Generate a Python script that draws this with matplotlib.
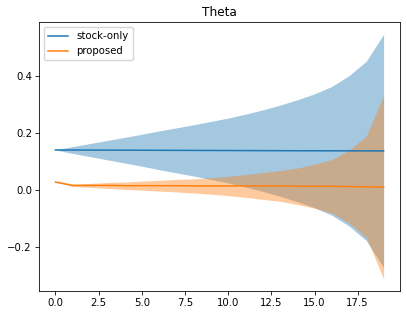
import numpy as np
import matplotlib
matplotlib.use("Agg")
import matplotlib.pyplot as plt

steps = list(range(20))

stock_mean = [0.1395, 0.1393, 0.1391, 0.1389, 0.1387, 0.1385, 0.1383, 0.1381, 0.1379, 0.1377,
              0.1375, 0.1373, 0.1371, 0.1369, 0.1367, 0.1366, 0.1365, 0.1364, 0.1362, 0.1360]
stock_std = [0.0, 0.012, 0.023, 0.034, 0.045, 0.056, 0.068, 0.079, 0.090, 0.102,
             0.114, 0.128, 0.143, 0.160, 0.179, 0.200, 0.226, 0.264, 0.315, 0.410]

prop_mean = [0.027, 0.015, 0.015, 0.015, 0.014, 0.014, 0.014, 0.014, 0.013, 0.013,
             0.013, 0.013, 0.013, 0.013, 0.012, 0.012, 0.012, 0.011, 0.010, 0.009]
prop_std = [0.001, 0.004, 0.007, 0.010, 0.013, 0.016, 0.019, 0.022, 0.025, 0.029,
            0.034, 0.040, 0.047, 0.054, 0.064, 0.077, 0.094, 0.128, 0.178, 0.322]

labels = ["stock-only", "proposed"]
title = "Theta"

s = 0.727
plt.rcParams.update({
    "font.size": 10 * s,
    "axes.linewidth": 0.8 * s,
    "xtick.major.width": 0.8 * s,
    "ytick.major.width": 0.8 * s,
    "xtick.major.size": 3.5 * s,
    "ytick.major.size": 3.5 * s,
    "xtick.major.pad": 3.5 * s,
    "ytick.major.pad": 3.5 * s,
})

fig = plt.figure(figsize=(4.07, 3.16), dpi=100)
ax = fig.add_axes([39 / 407, 1 - 291 / 316, (400 - 39) / 407, (291 - 22) / 316])

x = np.array(steps)
for mean, std, lab, col in [(stock_mean, stock_std, labels[0], "C0"),
                            (prop_mean, prop_std, labels[1], "C1")]:
    m = np.array(mean)
    sd = np.array(std)
    ax.plot(x, m, color=col, label=lab, lw=1.5 * s, zorder=3)
    ax.fill_between(x, m - sd, m + sd, color=col, alpha=0.4, lw=0)

ax.set_title(title, fontsize=12 * s, pad=6 * s)
ax.legend(loc="upper left", fontsize=10 * s)
fig.savefig("out.png", dpi=100)
